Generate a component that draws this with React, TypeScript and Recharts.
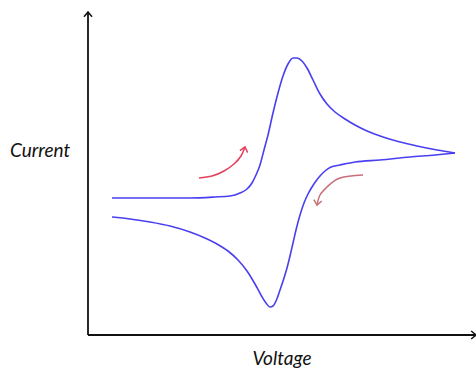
import { LineChart, Line, XAxis, YAxis, ReferenceDot } from 'recharts'

// picture read in plot units: x = voltage (0..388), y = current (0..323)
const forwardV = [24, 62, 102, 127, 142, 152, 159, 164, 168, 172, 176, 180, 185, 190, 195, 200, 205, 209, 214, 219, 225, 232, 239, 247, 257, 267, 279, 295, 312, 329, 349, 367]
const forwardI = [137, 137, 137, 138, 139, 142, 146, 152, 160, 170, 185, 200, 222, 242, 259, 271, 277, 277, 274, 267, 255, 241, 231, 223, 216, 210, 204, 198, 193, 189, 185, 182]

const reverseV = [24, 42, 62, 82, 102, 117, 129, 140, 150, 159, 167, 173, 178, 182, 185, 188, 192, 196, 199, 202, 205, 208, 212, 216, 220, 224, 228, 232, 237, 243, 252, 267, 292, 322, 347, 367]
const reverseI = [118, 116, 113, 109, 103, 97, 91, 84, 75, 64, 51, 40, 32, 28, 29, 34, 45, 57, 67, 79, 92, 105, 120, 132, 141, 148, 154, 159, 164, 168, 170, 173, 175, 178, 180, 182]

const arrowOneV = [111, 124, 136, 146, 153, 157]
const arrowOneI = [157, 159, 164, 171, 179, 188]
const arrowTwoV = [275, 252, 239, 232, 229]
const arrowTwoI = [160, 157, 148, 140, 130]

const forward = forwardV.map((v, i) => ({ v, i: forwardI[i] }))
const reverse = reverseV.map((v, i) => ({ v, i: reverseI[i] }))
const arrowOne = arrowOneV.map((v, i) => ({ v, i: arrowOneI[i] }))
const arrowTwo = arrowTwoV.map((v, i) => ({ v, i: arrowTwoI[i] }))

const chevron = (angle: number, color: string, size: number) => (props: any) => {
  const { cx, cy } = props
  return (
    <path
      d={`M${-size},${size * 1.2} L0,0 L${size},${size * 1.2}`}
      transform={`translate(${cx},${cy}) rotate(${angle})`}
      fill="none"
      stroke={color}
      strokeWidth={1.5}
    />
  )
}

const blue = '#4a3ff0'
const lastOne = arrowOne[arrowOne.length - 1]
const lastTwo = arrowTwo[arrowTwo.length - 1]
const labelStyle = { fontFamily: 'Lato', fontStyle: 'italic', fontSize: 19, fill: '#111' }

export default function App() {
  return (
    <div style={{ position: 'absolute', left: 0, top: 0, background: '#fff' }}>
      <LineChart width={476} height={370} margin={{ top: 12, right: 0, bottom: 0, left: 0 }}>
        <XAxis
          type="number"
          dataKey="v"
          domain={[0, 388]}
          allowDataOverflow
          height={35}
          tick={false}
          tickLine={false}
          axisLine={{ stroke: '#111', strokeWidth: 1.8 }}
          label={{ value: 'Voltage', position: 'insideBottom', offset: 5, style: labelStyle }}
        />
        <YAxis
          type="number"
          dataKey="i"
          domain={[0, 323]}
          allowDataOverflow
          width={88}
          tick={false}
          tickLine={false}
          axisLine={{ stroke: '#111', strokeWidth: 1.8 }}
          label={{ value: 'Current', position: 'insideLeft', offset: 10, dy: -23, style: labelStyle }}
        />
        <Line data={forward} dataKey="i" type="monotone" stroke={blue} strokeWidth={1.6} dot={false} activeDot={false} isAnimationActive={false} />
        <Line data={reverse} dataKey="i" type="monotone" stroke={blue} strokeWidth={1.6} dot={false} activeDot={false} isAnimationActive={false} />
        <Line data={arrowOne} dataKey="i" type="natural" stroke="#e2405c" strokeWidth={1.5} dot={false} activeDot={false} isAnimationActive={false} />
        <Line data={arrowTwo} dataKey="i" type="natural" stroke="#c8707a" strokeWidth={1.5} dot={false} activeDot={false} isAnimationActive={false} />
        <ReferenceDot x={lastOne.v} y={lastOne.i} shape={chevron(15, '#e2405c', 4)} ifOverflow="visible" />
        <ReferenceDot x={lastTwo.v} y={lastTwo.i} shape={chevron(190, '#c8707a', 4)} ifOverflow="visible" />
        <ReferenceDot x={0} y={323} shape={chevron(0, '#111', 4)} ifOverflow="visible" />
        <ReferenceDot x={388} y={0} shape={chevron(90, '#111', 4)} ifOverflow="visible" />
      </LineChart>
    </div>
  )
}
